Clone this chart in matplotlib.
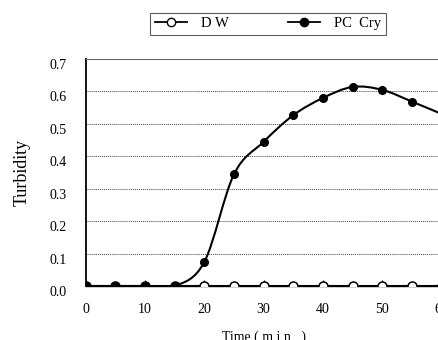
import numpy as np
import matplotlib
matplotlib.use('Agg')
import matplotlib.pyplot as plt
import matplotlib.transforms as mtransforms
from matplotlib.path import Path
from matplotlib.patches import PathPatch
from matplotlib.lines import Line2D

plt.rcParams['font.family'] = ['Liberation Serif', 'DejaVu Serif']

# Datos
tempo = [0, 5, 10, 15, 20, 25, 30, 35, 40, 45, 50, 55, 60]
dw = [0, 0, 0, 0, 0, 0, 0, 0, 0, 0, 0, 0, 0]
pc_cry = [0, 0, 0, 0, 0.074, 0.344, 0.444, 0.526, 0.579, 0.613, 0.604, 0.568, 0.53]
yticks = [0.0, 0.1, 0.2, 0.3, 0.4, 0.5, 0.6, 0.7]
xticks = [0, 10, 20, 30, 40, 50, 60]


# Curva suave estilo Excel (Bezier entre os pontos)
def caminho_suave(x, y):
    pts = np.column_stack([x, y]).astype(float)
    verts = [pts[0]]
    codes = [Path.MOVETO]
    n = len(pts)
    for i in range(n - 1):
        p0 = pts[max(i - 1, 0)]
        p1 = pts[i]
        p2 = pts[i + 1]
        p3 = pts[min(i + 2, n - 1)]
        c1 = p1 + (p2 - p0) / 6
        c2 = p2 - (p3 - p1) / 6
        verts += [c1, c2, p2]
        codes += [Path.CURVE4] * 3
    return Path(verts, codes)


fig = plt.figure(figsize=(4.38, 3.40), dpi=100)
ax = fig.add_axes([0.1957, 0.1588, 0.8123, 0.6686])

ax.plot(tempo, dw, color='black', lw=1.5, marker='o', ms=6.5,
        mfc='white', mec='black', mew=1.1, zorder=3)
ax.add_patch(PathPatch(caminho_suave(tempo, pc_cry), fill=False,
                       edgecolor='black', lw=1.5, zorder=4))
ax.plot(tempo, pc_cry, ls='none', marker='o', ms=5.5, mfc='black',
        mec='black', zorder=5)

ax.set_xlim(0, 60)
ax.set_ylim(0, 0.7)
ax.set_xticks(xticks)
ax.set_yticks(yticks)
ax.set_yticklabels([f'{v:.1f}' for v in yticks])
ax.tick_params(axis='x', direction='in', length=4, width=0.8, pad=12, labelsize=10)
ax.tick_params(axis='y', length=0, pad=14, labelsize=10)
# rótulos do eixo y um pouco abaixo das linhas
desloca = mtransforms.ScaledTranslation(0, -5 / 100, fig.dpi_scale_trans)
for rotulo in ax.get_yticklabels():
    rotulo.set_transform(rotulo.get_transform() + desloca)

ax.grid(axis='y', linestyle=(0, (1, 1)), color='#444444', lw=0.7)
ax.spines['left'].set_linewidth(1.3)
ax.spines['top'].set_color('#666666')
ax.spines['bottom'].set_linewidth(1.0)

ax.set_ylabel('Turbidity', fontsize=13, labelpad=13)
ax.set_xlabel('Time ( m i n   )', fontsize=10, labelpad=11)

handles = [
    Line2D([], [], color='black', lw=1.3, marker='o', ms=6, mfc='white', mec='black'),
    Line2D([], [], color='black', lw=1.3, marker='o', ms=6, mfc='black', mec='black'),
]
leg = fig.legend(handles, ['D W', 'PC  Cry'], loc='center', ncol=2,
                 bbox_to_anchor=(0.612, 0.930), fontsize=10.5, frameon=True,
                 fancybox=False, edgecolor='#333333', handlelength=2.2,
                 columnspacing=4.0, borderpad=0.3, handletextpad=1.0,
                 borderaxespad=0)
leg.get_frame().set_linewidth(0.8)
leg._legend_box.sep = 0
for t in leg.get_texts():
    pass

fig.savefig('out.png', dpi=100)
